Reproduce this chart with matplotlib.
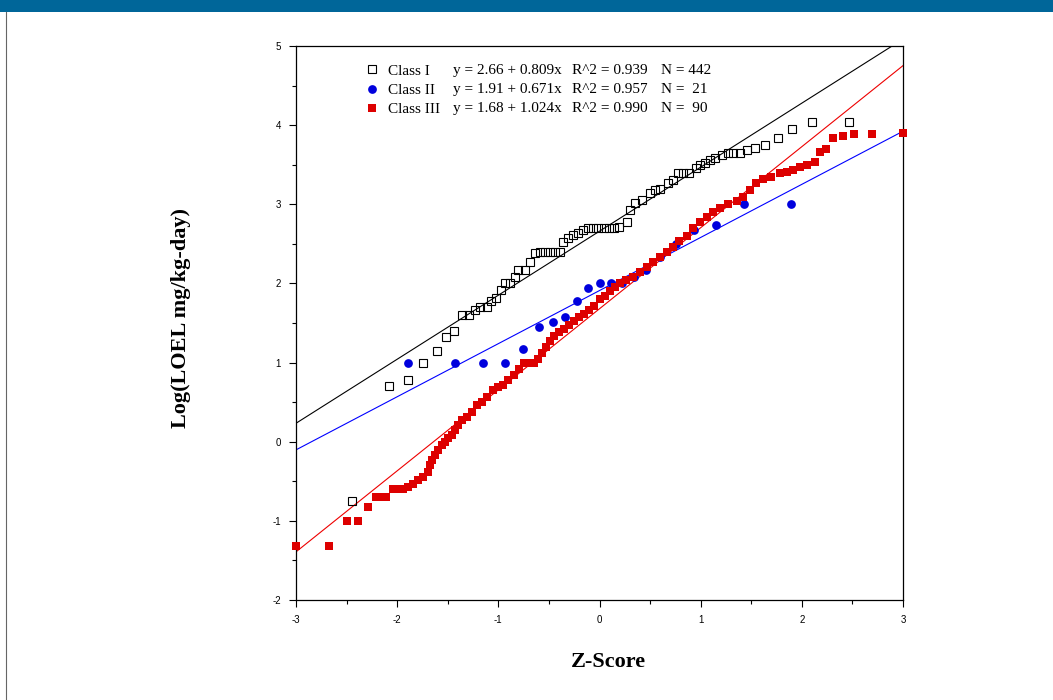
import matplotlib
matplotlib.use("Agg")
import matplotlib.pyplot as plt
from matplotlib.patches import Rectangle
from matplotlib.lines import Line2D
import numpy as np

plt.rcParams["axes.unicode_minus"] = False

# Class I (hollow squares), visible points only (N = 442, heavy overlap)
class1_z = [-2.45, -2.08, -1.89, -1.74, -1.61, -1.52, -1.44, -1.36, -1.29, -1.23,
            -1.18, -1.11, -1.07, -1.02, -0.97, -0.93, -0.88, -0.84, -0.81, -0.74,
            -0.69, -0.64, -0.59, -0.54, -0.49, -0.44, -0.39, -0.36, -0.31, -0.26,
            -0.21, -0.16, -0.11, -0.06, -0.01, 0.04, 0.09, 0.14, 0.19, 0.27,
            0.30, 0.35, 0.42, 0.50, 0.55, 0.60, 0.68, 0.73, 0.78, 0.83,
            0.88, 0.95, 0.99, 1.04, 1.09, 1.14, 1.21, 1.27, 1.32, 1.39,
            1.46, 1.54, 1.64, 1.76, 1.90, 2.10, 2.47]
class1_v = [-0.75, 0.70, 0.78, 1.00, 1.15, 1.32, 1.40, 1.60, 1.60, 1.66,
            1.70, 1.70, 1.78, 1.82, 1.92, 2.00, 2.00, 2.08, 2.17, 2.17,
            2.27, 2.38, 2.40, 2.40, 2.40, 2.40, 2.40, 2.52, 2.57, 2.61,
            2.64, 2.68, 2.70, 2.70, 2.70, 2.70, 2.70, 2.70, 2.71, 2.78,
            2.93, 3.01, 3.05, 3.14, 3.18, 3.19, 3.27, 3.31, 3.40, 3.40,
            3.40, 3.46, 3.50, 3.52, 3.56, 3.58, 3.62, 3.65, 3.65, 3.65,
            3.69, 3.71, 3.75, 3.84, 3.95, 4.04, 4.04]

# Class II (blue dots)
class2_z = [-1.89, -1.43, -1.15, -0.93, -0.76, -0.60, -0.46, -0.34, -0.22, -0.11,
            0.00, 0.11, 0.22, 0.34, 0.46, 0.60, 0.76, 0.93, 1.15, 1.43, 1.89]
class2_v = [1.00, 1.00, 1.00, 1.00, 1.17, 1.45, 1.51, 1.58, 1.78, 1.94,
            2.00, 2.00, 2.00, 2.08, 2.17, 2.33, 2.50, 2.68, 2.74, 3.00, 3.00]

# Class III (red squares)
class3_z = [-3.00, -2.67, -2.50, -2.39, -2.29, -2.21, -2.16, -2.11, -2.04, -1.99,
            -1.94, -1.89, -1.84, -1.79, -1.74, -1.70, -1.68, -1.66, -1.63, -1.60,
            -1.56, -1.53, -1.50, -1.46, -1.43, -1.40, -1.36, -1.31, -1.26, -1.21,
            -1.16, -1.11, -1.05, -1.00, -0.95, -0.90, -0.85, -0.80, -0.75, -0.70,
            -0.65, -0.61, -0.57, -0.53, -0.49, -0.45, -0.40, -0.35, -0.30, -0.25,
            -0.20, -0.15, -0.10, -0.05, 0.00, 0.05, 0.10, 0.15, 0.20, 0.26,
            0.33, 0.40, 0.47, 0.53, 0.60, 0.67, 0.73, 0.79, 0.86, 0.92,
            0.99, 1.06, 1.12, 1.19, 1.27, 1.36, 1.42, 1.49, 1.55, 1.62,
            1.70, 1.78, 1.85, 1.91, 1.98, 2.05, 2.13, 2.18, 2.24, 2.31,
            2.41, 2.52, 2.69, 3.00]
class3_v = [-1.32, -1.32, -1.00, -1.00, -0.83, -0.70, -0.70, -0.70, -0.60, -0.60,
            -0.60, -0.57, -0.53, -0.48, -0.44, -0.38, -0.29, -0.23, -0.17, -0.10,
            -0.04, 0.00, 0.05, 0.09, 0.15, 0.21, 0.27, 0.31, 0.38, 0.46,
            0.50, 0.57, 0.65, 0.69, 0.72, 0.78, 0.84, 0.92, 1.00, 1.00,
            1.00, 1.05, 1.12, 1.20, 1.27, 1.34, 1.39, 1.43, 1.47, 1.52,
            1.57, 1.61, 1.67, 1.71, 1.80, 1.84, 1.90, 1.96, 2.00, 2.04,
            2.08, 2.14, 2.21, 2.27, 2.33, 2.40, 2.46, 2.53, 2.60, 2.70,
            2.78, 2.84, 2.90, 2.95, 3.00, 3.04, 3.09, 3.18, 3.27, 3.32,
            3.35, 3.40, 3.41, 3.43, 3.47, 3.50, 3.53, 3.66, 3.70, 3.84,
            3.86, 3.89, 3.89, 3.90]

# regression fits: intercept, slope
fits = [(2.66, 0.809), (1.91, 0.671), (1.68, 1.024)]
class_names = ["Class I", "Class II", "Class III"]
equations = ["y = 2.66 + 0.809x", "y = 1.91 + 0.671x", "y = 1.68 + 1.024x"]
r2_texts = ["R^2 = 0.939", "R^2 = 0.957", "R^2 = 0.990"]
n_texts = ["N = 442", "N =  21", "N =  90"]

x_ticks = [-3, -2, -1, 0, 1, 2, 3]
y_ticks = [-2, -1, 0, 1, 2, 3, 4, 5]

RED = "#dd0000"
BLUE = "#0000dd"

W, H = 1053, 700


def draw():
    fig = plt.figure(figsize=(W / 100, H / 100), dpi=100)
    fig.patch.set_facecolor("white")

    # page decoration: blue band on top, thin line on the left
    fig.add_artist(Rectangle((0, 1 - 12 / H), 1, 12 / H, transform=fig.transFigure,
                             color="#006699", lw=0))
    fig.add_artist(Line2D([6 / W, 6 / W], [0, 1 - 12 / H], transform=fig.transFigure,
                          color="#666666", lw=0.8))

    ax = fig.add_axes([296 / W, 100 / H, 607 / W, 554 / H])
    ax.set_xlim(-3, 3)
    ax.set_ylim(-2, 5)

    xs = np.array([-3.0, 3.0])
    line_colors = ["black", "#0000ff", "#ee0000"]
    for (a, b), c in zip(fits, line_colors):
        ax.plot(xs, a + b * xs, color=c, lw=0.8, zorder=2)

    h1, = ax.plot(class1_z, class1_v, ls="none", marker="s", ms=6.0, mfc="none",
                  mec="black", mew=0.8, zorder=3)
    h2, = ax.plot(class2_z, class2_v, ls="none", marker="o", ms=6.3, mfc=BLUE,
                  mec=BLUE, mew=0, zorder=3)
    h3, = ax.plot(class3_z, class3_v, ls="none", marker="s", ms=6.4, mfc=RED,
                  mec=RED, mew=0, zorder=4)
    for h in (h1, h2, h3):
        h.set_clip_on(False)

    ax.legend([h1, h2, h3], class_names, loc="upper left",
              bbox_to_anchor=((364 - 296) / 607, (600 - 64) / 554),
              frameon=False, borderpad=0, borderaxespad=0, handlelength=1.0,
              handletextpad=0.6, labelspacing=0.36,
              prop={"family": "Liberation Serif", "size": 11})

    row_y = [71, 90, 109]
    col_x = [453, 572, 661]
    for i in range(3):
        yy = (600 - row_y[i]) / 554
        for j, s in enumerate([equations[i], r2_texts[i], n_texts[i]]):
            ax.text((col_x[j] - 296) / 607, yy, s, transform=ax.transAxes,
                    ha="left", va="center", family="Liberation Serif", fontsize=11)

    ax.set_xticks(x_ticks)
    ax.set_yticks(y_ticks)
    ax.set_xticks(np.arange(-2.5, 3, 1.0), minor=True)
    ax.set_yticks(np.arange(-1.5, 5, 1.0), minor=True)
    ax.tick_params(which="both", direction="out", top=False, right=False,
                   labelsize=7, width=0.8, color="black")
    ax.tick_params(which="major", length=5, pad=6)
    ax.tick_params(which="minor", length=3)
    for lab in ax.get_xticklabels() + ax.get_yticklabels():
        lab.set_family("Liberation Sans")
    for sp in ax.spines.values():
        sp.set_linewidth(0.9)

    fig.text(181 / W, 1 - 318 / H, "Log(LOEL mg/kg-day)", rotation=90,
             ha="center", va="center", family="Liberation Serif",
             fontweight="bold", fontsize=16)
    fig.text(608 / W, 1 - 662 / H, "Z-Score", ha="center", va="center",
             family="Liberation Serif", fontweight="bold", fontsize=16)

    fig.savefig("out.png", dpi=100)


def main():
    draw()


if __name__ == "__main__":
    main()
